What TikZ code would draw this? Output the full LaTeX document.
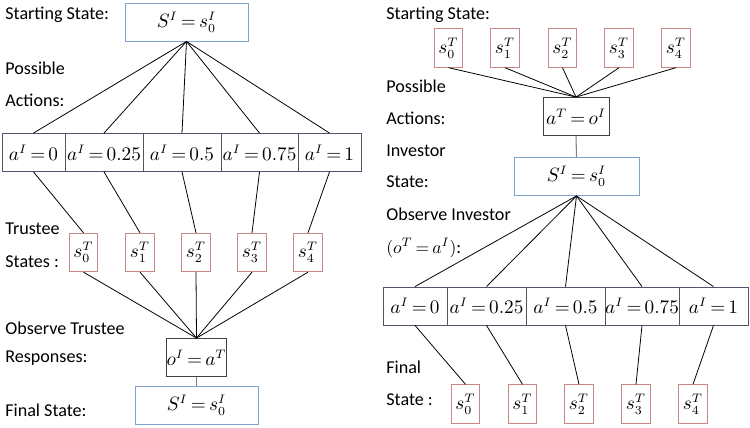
\documentclass[tikz,border=0pt]{standalone}
\usepackage{fontspec}
\setmainfont{Carlito}
\usetikzlibrary{positioning}

\definecolor{stateblue}{HTML}{7DA3CF}
\definecolor{trusteered}{HTML}{C98686}
\definecolor{actgray}{HTML}{55526A}
\definecolor{obsgray}{HTML}{404040}
\thickmuskip=3mu plus 2mu

\begin{document}
\begin{tikzpicture}[x=0.02cm,y=-0.02cm,
    lbl/.style={anchor=west,inner sep=0pt,font=\fontsize{10.3}{12}\selectfont},
    mathbox/.style={draw,inner sep=0pt,font=\fontsize{10.5}{12}\selectfont,line width=0.5pt},
    investorbox/.style={mathbox,draw=stateblue,minimum height=0.76cm},
    trusteebox/.style={mathbox,draw=trusteered,minimum width=0.57cm,minimum height=0.77cm},
    actbox/.style={mathbox,draw=actgray,minimum height=0.76cm},
    obsbox/.style={mathbox,draw=obsgray,minimum height=0.76cm},
    link/.style={line width=0.45pt},
    stem/.style={line width=0.6pt,gray}]
    \useasboundingbox (0,0) rectangle (750,428);

    % Investor tree (left)
    \begin{scope}
        \node[lbl] (startL) at (5,15) {Starting State:};
        \node[lbl] (possL) at (5,68) {Possible};
        \node[lbl] (actL) at (5,100) {Actions:};
        \node[lbl] (trusteeL) at (5,229) {Trustee};
        \node[lbl] (statesL) at (5,262) {States :};
        \node[lbl] (obsL) at (5,328) {Observe Trustee};
        \node[lbl] (respL) at (5,358) {Responses:};
        \node[lbl] (finalL) at (5,410) {Final State:};

        \node[investorbox,minimum width=2.46cm] (sI) at (186.5,22) {$S^I = s_0^I$};

        \node[actbox,minimum width=1.26cm] (aA) at (33.5,152.5) {$a^I = 0$};
        \node[actbox,minimum width=1.56cm] (aB) at (104,152.5) {$a^I = 0.25$};
        \node[actbox,minimum width=1.56cm] (aC) at (182,152.5) {$a^I = 0.5$};
        \node[actbox,minimum width=1.54cm] (aD) at (259.5,152.5) {$a^I = 0.75$};
        \node[actbox,minimum width=1.26cm] (aE) at (329.5,152.5) {$a^I = 1$};

        \node[trusteebox] (tA) at (83.5,252.5) {$s_0^T$};
        \node[trusteebox] (tB) at (140,252.5) {$s_1^T$};
        \node[trusteebox] (tC) at (196,252.5) {$s_2^T$};
        \node[trusteebox] (tD) at (252,252.5) {$s_3^T$};
        \node[trusteebox] (tE) at (308,252.5) {$s_4^T$};

        \node[obsbox,minimum width=1.1cm] (oI) at (196.5,357.5) {$o^I = a^T$};
        \node[investorbox,minimum width=2.46cm] (sIfin) at (196.5,405) {$S^I = s_0^I$};

        \draw[link] (sI.south) -- (aA.north);
        \draw[link] (sI.south) -- (aB.north);
        \draw[link] (sI.south) -- (aC.north);
        \draw[link] (sI.south) -- (aD.north);
        \draw[link] (sI.south) -- (aE.north);

        \draw[link] (aA.south) -- (tA.north);
        \draw[link] (aB.south) -- (tB.north);
        \draw[link] (aC.south) -- (tC.north);
        \draw[link] (aD.south) -- (tD.north);
        \draw[link] (aE.south) -- (tE.north);

        \draw[link] (tA.south) -- (oI.north);
        \draw[link] (tB.south) -- (oI.north);
        \draw[link] (tC.south) -- (oI.north);
        \draw[link] (tD.south) -- (oI.north);
        \draw[link] (tE.south) -- (oI.north);

        \draw[stem] (oI.south) -- (sIfin.north);
    \end{scope}

    % Trustee tree (right)
    \begin{scope}
        \node[lbl] (startR) at (386,15) {Starting State:};
        \node[lbl] (possR) at (386,86) {Possible};
        \node[lbl] (actR) at (386,118) {Actions:};
        \node[lbl] (invR) at (386,151) {Investor};
        \node[lbl] (stateR) at (386,182) {State:};
        \node[lbl] (obsR) at (386,214) {Observe Investor};
        \node[lbl] (oTR) at (386,248) {$(o^T = a^I)$:};
        \node[lbl] (finR) at (386,367) {Final};
        \node[lbl] (finStR) at (386,400) {State :};

        \node[trusteebox] (uA) at (448.5,48) {$s_0^T$};
        \node[trusteebox] (uB) at (505,48) {$s_1^T$};
        \node[trusteebox] (uC) at (562.5,48) {$s_2^T$};
        \node[trusteebox] (uD) at (619,48) {$s_3^T$};
        \node[trusteebox] (uE) at (676,48) {$s_4^T$};

        \node[obsbox,minimum width=1.32cm] (aT) at (576,116.5) {$a^T = o^I$};
        \node[investorbox,minimum width=2.5cm] (sIR) at (576.5,176.5) {$S^I = s_0^I$};

        \node[actbox,minimum width=1.28cm] (bA) at (415,306) {$a^I = 0$};
        \node[actbox,minimum width=1.58cm] (bB) at (486.5,306) {$a^I = 0.25$};
        \node[actbox,minimum width=1.58cm] (bC) at (565.5,306) {$a^I = 0.5$};
        \node[actbox,minimum width=1.48cm] (bD) at (642,306) {$a^I = 0.75$};
        \node[actbox,minimum width=1.38cm] (bE) at (713.5,306) {$a^I = 1$};

        \node[trusteebox] (vA) at (465.5,404) {$s_0^T$};
        \node[trusteebox] (vB) at (522.5,404) {$s_1^T$};
        \node[trusteebox] (vC) at (579,404) {$s_2^T$};
        \node[trusteebox] (vD) at (636,404) {$s_3^T$};
        \node[trusteebox] (vE) at (693,404) {$s_4^T$};

        \draw[link] (uA.south) -- (aT.north);
        \draw[link] (uB.south) -- (aT.north);
        \draw[link] (uC.south) -- (aT.north);
        \draw[link] (uD.south) -- (aT.north);
        \draw[link] (uE.south) -- (aT.north);

        \draw[stem] (aT.south) -- (sIR.north);

        \draw[link] (sIR.south) -- (bA.north);
        \draw[link] (sIR.south) -- (bB.north);
        \draw[link] (sIR.south) -- (bC.north);
        \draw[link] (sIR.south) -- (bD.north);
        \draw[link] (sIR.south) -- (bE.north);

        \draw[link] (bA.south) -- (vA.north);
        \draw[link] (bB.south) -- (vB.north);
        \draw[link] (bC.south) -- (vC.north);
        \draw[link] (bD.south) -- (vD.north);
        \draw[link] (bE.south) -- (vE.north);
    \end{scope}
\end{tikzpicture}
\end{document}
